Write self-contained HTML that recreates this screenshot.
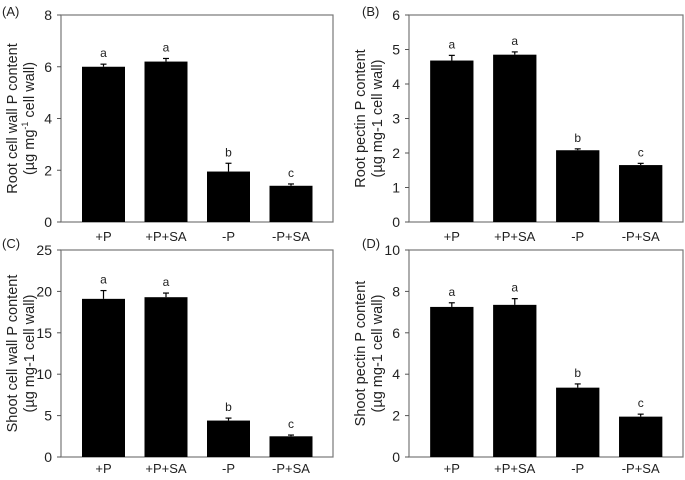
<!DOCTYPE html>
<html><head><meta charset="utf-8"><style>
body{margin:0;background:#fff;width:685px;height:475px;overflow:hidden}
svg text{font-family:"Liberation Sans",Arial,sans-serif;fill:#222}
</style></head><body>
<svg id="fig" width="685" height="475"></svg>
<script>
const categories=["+P","+P+SA","-P","-P+SA"];
const valuesA=[6.0,6.2,1.95,1.4]; const errA=[0.1,0.12,0.32,0.07]; const lettersA=["a","a","b","c"]; const ticksA=[0,2,4,6,8];
const valuesB=[4.68,4.85,2.08,1.65]; const errB=[0.15,0.08,0.04,0.05]; const lettersB=["a","a","b","c"]; const ticksB=[0,1,2,3,4,5,6];
const valuesC=[19.1,19.3,4.4,2.5]; const errC=[1.0,0.5,0.3,0.15]; const lettersC=["a","a","b","c"]; const ticksC=[0,5,10,15,20,25];
const valuesD=[7.25,7.35,3.35,1.95]; const errD=[0.2,0.3,0.18,0.12]; const lettersD=["a","a","b","c"]; const ticksD=[0,2,4,6,8,10];
const NS="http://www.w3.org/2000/svg";
const svg=document.getElementById('fig');
function mk(tag,attrs,parent,text){const e=document.createElementNS(NS,tag);for(const k in attrs)e.setAttribute(k,attrs[k]);if(text!==undefined)e.textContent=text;(parent||svg).appendChild(e);return e;}
function panel(id,L,T,R,B,vals,errs,letters,ticks,label,lx,ly,yl1,yl2,sup,xoff){
  const g=mk('g',{});
  
  
  const ymax=ticks[ticks.length-1];
  const y=v=>B-(v/ymax)*(B-T);
  const xc=i=>L+(R-L)*(42.5+i*62.5)/272;
  const bw=(R-L)*43/272;
  const f=mk('rect',{x:L,y:T,width:R-L,height:B-T,fill:'none',stroke:'#777','stroke-width':1.2},g);
  
  
  ticks.forEach(t=>{
    mk('line',{x1:L-4,x2:L,y1:y(t),y2:y(t),stroke:'#555'},g);
    const tl=mk('text',{x:L-9,y:y(t)+5,'text-anchor':'end','font-size':14},g,t);
    
    
  });
  vals.forEach((v,i)=>{
    const r=mk('rect',{x:xc(i)-bw/2,y:y(v),width:bw,height:B-y(v),fill:'#000'},g);
    
    
    const ye=y(v+errs[i]);
    mk('line',{x1:xc(i),x2:xc(i),y1:y(v),y2:ye,stroke:'#000','stroke-width':1.2},g);
    mk('line',{x1:xc(i)-3,x2:xc(i)+3,y1:ye,y2:ye,stroke:'#000','stroke-width':1.2},g);
    const lt=mk('text',{x:xc(i),y:ye-7,'text-anchor':'middle','font-size':12},g,letters[i]);
    
    
    const xl=mk('text',{x:xc(i),y:B+xoff,'text-anchor':'middle','font-size':13},g,categories[i]);
    
    
  });
  const pl=mk('text',{x:lx,y:ly,'font-size':13},g,label);
  
  
  const cy=(T+B)/2;
  const t1=mk('text',{x:0,y:0,'text-anchor':'middle','font-size':14.5,transform:`translate(${L-44},${cy}) rotate(-90)`},g,yl1);
  
  
  const t2=mk('text',{x:0,y:0,'text-anchor':'middle','font-size':14.5,transform:`translate(${L-27},${cy}) rotate(-90)`},g);
  
  
  if(sup){mk('tspan',{},t2,'(µg mg');mk('tspan',{'font-size':9,dy:-6},t2,'-1');mk('tspan',{dy:6},t2,' cell wall)');}
  else t2.textContent=yl2;
}
panel('a',61,15,333,222,valuesA,errA,lettersA,ticksA,'(A)',2,16,'Root cell wall P content','',true,19);
panel('b',409,15,683,222,valuesB,errB,lettersB,ticksB,'(B)',362,16,'Root pectin P content','(µg mg-1 cell wall)',false,19);
panel('c',61,250,333,457,valuesC,errC,lettersC,ticksC,'(C)',2,248,'Shoot cell wall P content','(µg mg-1 cell wall)',false,16);
panel('d',409,250,683,457,valuesD,errD,lettersD,ticksD,'(D)',362,248,'Shoot pectin P content','(µg mg-1 cell wall)',false,16);
</script>
</body></html>
